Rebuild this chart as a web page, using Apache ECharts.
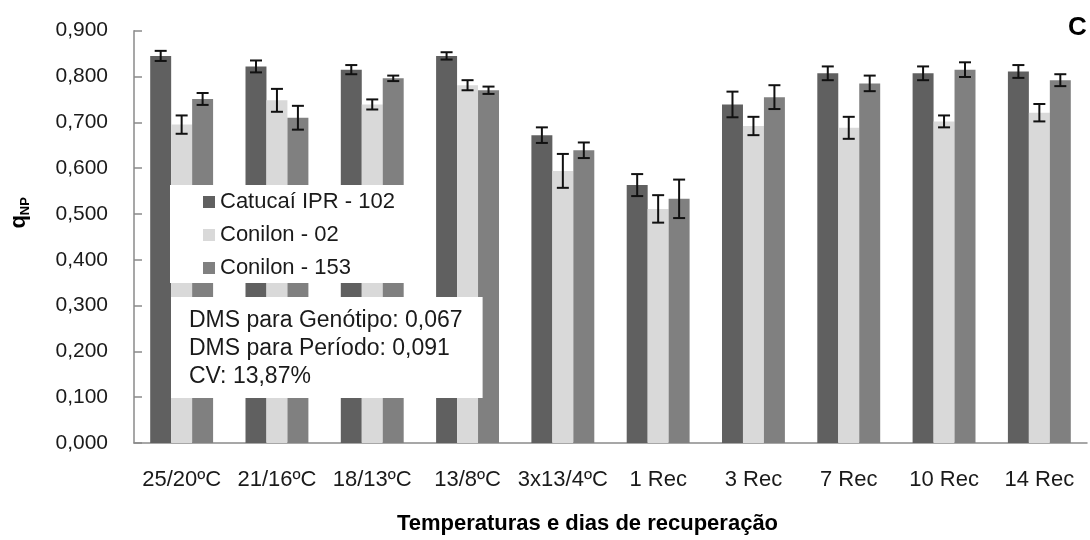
<!DOCTYPE html>
<html>
<head>
<meta charset="utf-8">
<script src="https://cdn.jsdelivr.net/npm/echarts@6/dist/echarts.min.js"></script>
<style>
  html, body { margin: 0; padding: 0; background: #ffffff; }
  #chart { width: 1090px; height: 540px; }
</style>
</head>
<body>
<div id="chart"></div>
<script>
// Categories: temperature regimes followed by recovery days
const categories = ['25/20ºC', '21/16ºC', '18/13ºC', '13/8ºC', '3x13/4ºC', '1 Rec', '3 Rec', '7 Rec', '10 Rec', '14 Rec'];
const seriesNames = ['Catucaí IPR - 102', 'Conilon - 02', 'Conilon - 153'];

// Mean qNP per genotype
const catucai    = [0.845, 0.822, 0.815, 0.845, 0.672, 0.563, 0.739, 0.807, 0.807, 0.811];
const conilon02  = [0.695, 0.748, 0.739, 0.781, 0.594, 0.511, 0.692, 0.688, 0.702, 0.721];
const conilon153 = [0.751, 0.710, 0.796, 0.770, 0.639, 0.533, 0.755, 0.785, 0.815, 0.792];

// Standard errors
const catucaiErr    = [0.011, 0.013, 0.010, 0.008, 0.017, 0.024, 0.028, 0.015, 0.015, 0.014];
const conilon02Err  = [0.020, 0.025, 0.011, 0.011, 0.037, 0.030, 0.020, 0.024, 0.013, 0.019];
const conilon153Err = [0.013, 0.026, 0.006, 0.008, 0.017, 0.042, 0.026, 0.017, 0.016, 0.013];

const yTickLabels = ['0,000', '0,100', '0,200', '0,300', '0,400', '0,500', '0,600', '0,700', '0,800', '0,900'];
const statsLines = ['DMS para Genótipo: 0,067', 'DMS para Período: 0,091', 'CV: 13,87%'];
const panelLetter = 'C';

const colors = ['#606060', '#d9d9d9', '#808080'];
const SANS = '"Liberation Sans", Arial, sans-serif';
const CATEGORY_GAP = 0.34;

const means = [catucai, conilon02, conilon153];
const errs = [catucaiErr, conilon02Err, conilon153Err];

function barSeries(i) {
  return {
    type: 'bar',
    name: seriesNames[i],
    data: means[i],
    barGap: '0%',
    barCategoryGap: (CATEGORY_GAP * 100) + '%',
    itemStyle: { color: colors[i] },
    z: 2
  };
}

// Error bars drawn on top of each bar of the group
function errorSeries(i) {
  return {
    type: 'custom',
    name: 'err' + i,
    silent: true,
    z: 3,
    encode: { x: 0, y: 1 },
    data: means[i].map((v, k) => [k, v, errs[i][k]]),
    renderItem(params, api) {
      const c = api.value(0), v = api.value(1), e = api.value(2);
      const band = api.size([1, 0])[0];
      const bw = band * (1 - CATEGORY_GAP) / 3;
      const x = api.coord([c, v])[0] + (i - 1) * bw;
      const yTop = api.coord([c, v + e])[1];
      const yBot = api.coord([c, v - e])[1];
      const half = 6;
      const st = { stroke: '#111111', lineWidth: 2 };
      return {
        type: 'group',
        children: [
          { type: 'line', shape: { x1: x, y1: yTop, x2: x, y2: yBot }, style: st },
          { type: 'line', shape: { x1: x - half, y1: yTop, x2: x + half, y2: yTop }, style: st },
          { type: 'line', shape: { x1: x - half, y1: yBot, x2: x + half, y2: yBot }, style: st }
        ]
      };
    }
  };
}

const chart = echarts.init(document.getElementById('chart'), null, { renderer: 'canvas' });

chart.setOption({
  animation: false,
  backgroundColor: '#ffffff',
  textStyle: { fontFamily: SANS },
  grid: { left: 129, right: 3, top: 30.7, bottom: 95, containLabel: false },
  title: [
    {
      text: panelLetter,
      left: 1068, top: 15, padding: 0,
      textStyle: { fontFamily: SANS, fontSize: 26, fontWeight: 'bold', color: '#000000' }
    },
    {
      text: statsLines.join('\n'),
      left: 171, top: 297,
      backgroundColor: '#ffffff',
      padding: [10, 20, 7, 18],
      textStyle: { fontFamily: SANS, fontSize: 23, lineHeight: 28, fontWeight: 'normal', color: '#1a1a1a' }
    }
  ],
  legend: {
    orient: 'vertical',
    left: 170, top: 185,
    data: seriesNames,
    icon: 'rect',
    itemWidth: 12, itemHeight: 12, itemGap: 11,
    backgroundColor: '#ffffff',
    padding: [6, 19, 4, 33],
    selectedMode: false,
    textStyle: { fontFamily: SANS, fontSize: 22, lineHeight: 22, color: '#1a1a1a' }
  },
  xAxis: {
    type: 'category',
    data: categories,
    axisLine: { lineStyle: { color: '#8a8a8a', width: 1.5 } },
    axisTick: { show: false },
    axisLabel: { interval: 0, margin: 26, fontFamily: SANS, fontSize: 22, color: '#1a1a1a' },
    name: 'Temperaturas e dias de recuperação',
    nameLocation: 'middle',
    nameGap: 70,
    nameTextStyle: { fontFamily: SANS, fontSize: 22, fontWeight: 'bold', color: '#000000', padding: [0, 46, 0, 0] }
  },
  yAxis: {
    type: 'value',
    min: 0, max: 0.9, interval: 0.1,
    splitLine: { show: false },
    axisLine: { show: true, lineStyle: { color: '#8a8a8a', width: 1.5 } },
    axisTick: { show: true, inside: true, length: 8, lineStyle: { color: '#8a8a8a', width: 1.5 } },
    axisLabel: {
      margin: 26, fontFamily: SANS, fontSize: 21, color: '#1a1a1a',
      formatter: (v) => yTickLabels[Math.round(v * 10)]
    },
    name: '{q|q}{s|NP}',
    nameLocation: 'middle',
    nameRotate: 90,
    nameGap: 102,
    nameTextStyle: {
      padding: [0, 0, 0, 48],
      rich: {
        q: { fontFamily: SANS, fontSize: 22, fontWeight: 'bold', color: '#000000', lineHeight: 26 },
        s: { fontFamily: SANS, fontSize: 13, fontWeight: 'bold', color: '#000000', verticalAlign: 'bottom', lineHeight: 26 }
      }
    }
  },
  series: [barSeries(0), barSeries(1), barSeries(2), errorSeries(0), errorSeries(1), errorSeries(2)]
});
</script>
</body>
</html>
